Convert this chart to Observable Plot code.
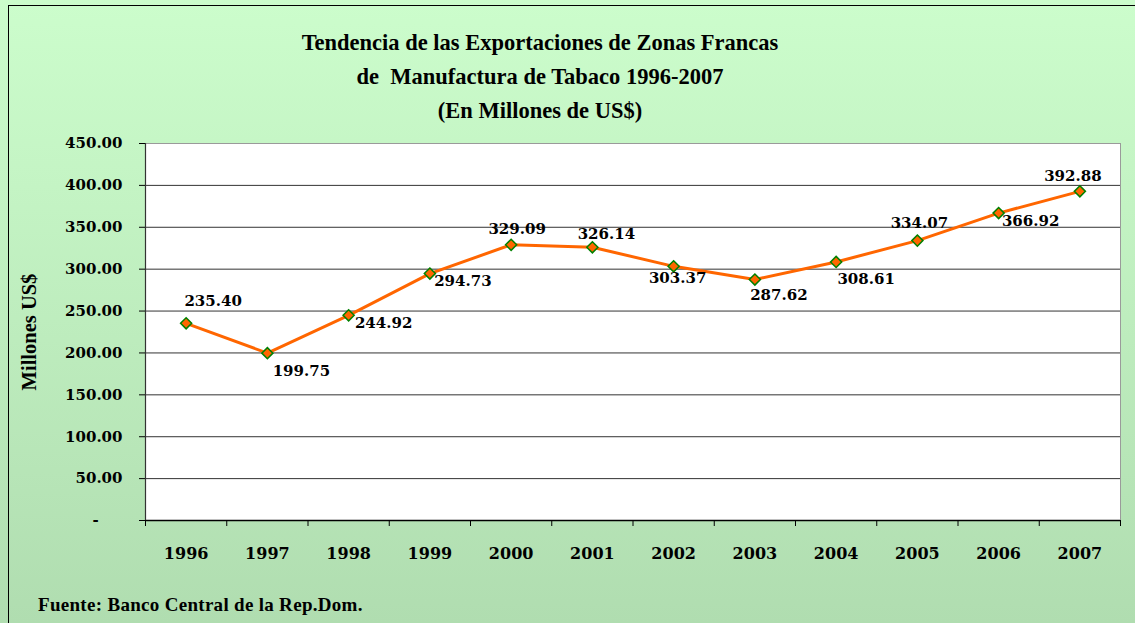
<!DOCTYPE html>
<html><head><meta charset="utf-8">
<script src="https://cdn.jsdelivr.net/npm/d3@7"></script>
<script src="https://cdn.jsdelivr.net/npm/@observablehq/plot@0.6"></script>
<style>
html,body{margin:0;padding:0;background:#fff;}
body{width:1135px;height:623px;overflow:hidden;}
#wrap{position:relative;width:1135px;height:623px;background:linear-gradient(#CCFDCC 0%, #C4F4C4 30%, #B0DDB0 100%);overflow:hidden;}
#border{position:absolute;left:8px;top:5px;width:1300px;height:800px;border:1.5px solid #000;box-sizing:border-box;}
#title{position:absolute;left:0;width:1080px;top:26px;text-align:center;font-family:"Liberation Serif",serif;font-weight:bold;font-size:22.5px;line-height:34px;color:#000;}
#ylab{position:absolute;left:29px;top:332px;transform:translate(-50%,-50%) rotate(-90deg);white-space:nowrap;font-family:"Liberation Serif",serif;font-weight:bold;font-size:20.5px;color:#000;}
#foot{position:absolute;left:38px;top:594px;font-family:"Liberation Serif",serif;font-weight:bold;font-size:19px;letter-spacing:0.3px;color:#000;white-space:nowrap;}
#chart{position:absolute;left:0;top:0;}
</style>
</head><body>
<div id="wrap">
  <div id="border"></div>
  <div id="chart"></div>
  <div id="title">Tendencia de las Exportaciones de Zonas Francas<br>de&nbsp; Manufactura de Tabaco 1996-2007<br>(En Millones de US$)</div>
  <div id="ylab">Millones US$</div>
  <div id="foot">Fuente: Banco Central de la Rep.Dom.</div>
</div>
<script>
// Data
const years = [1996, 1997, 1998, 1999, 2000, 2001, 2002, 2003, 2004, 2005, 2006, 2007];
const values = [235.40, 199.75, 244.92, 294.73, 329.09, 326.14, 303.37, 287.62, 308.61, 334.07, 366.92, 392.88];
const yTicks = [0, 50, 100, 150, 200, 250, 300, 350, 400, 450];

// Label placement (style, not data)
const labelDx = [27, 34, 35, 33, 6, 14, 4, 24, 30, 2, 32, -7];
const labelDy = [-22, 18, 8, 8, -16, -13, 12, 16, 17, -17, 8, -15];

const rows = years.map((yr, i) => ({year: yr, value: values[i]}));
const xMin = years[0] - 0.5, xMax = years[years.length - 1] + 0.5;
const bounds = years.map(y => y - 0.5).concat([xMax]);

const labelMarks = rows.map((r, i) => Plot.text([r], {
  x: "year", y: "value", text: d => d.value.toFixed(2),
  dx: labelDx[i], dy: labelDy[i], fill: "#000",
  fontFamily: "DejaVu Serif", fontWeight: "bold", fontSize: 15
}));

const chart = Plot.plot({
  width: 1135, height: 623,
  marginLeft: 145, marginRight: 15, marginTop: 143, marginBottom: 103,
  style: {background: "transparent", fontFamily: "DejaVu Serif", fontWeight: "bold", fontSize: "15px", color: "#000", overflow: "visible"},
  x: {type: "linear", domain: [xMin, xMax]},
  y: {domain: [0, 450]},
  marks: [
    Plot.frame({fill: "white", stroke: "#9a9a9a"}),
    Plot.ruleY(yTicks.filter(t => t > 0 && t < 450), {stroke: "#333", strokeWidth: 1}),
    Plot.ruleY([0], {stroke: "#000", strokeWidth: 1.5}),
    Plot.ruleX([xMin], {stroke: "#333", strokeWidth: 1.2}),
    Plot.axisY({ticks: yTicks, tickSize: 6, tickPadding: 17, tickFormat: d => d === 0 ? "-\u2007\u2007\u2009" : d.toFixed(2), label: null, fontSize: 15}),
    Plot.axisX({ticks: bounds, tickSize: 6, tickFormat: () => "", label: null}),
    Plot.axisX({ticks: years, tickSize: 0, tickPadding: 27, tickFormat: d => String(d), label: null, fontSize: 16}),
    Plot.line(rows, {x: "year", y: "value", stroke: "#FF6600", strokeWidth: 3}),
    Plot.dot(rows, {x: "year", y: "value", symbol: "diamond2", r: 5, fill: "#FF6600", stroke: "#008000", strokeWidth: 1.5}),
    ...labelMarks
  ]
});
document.getElementById("chart").appendChild(chart);
</script>
</body></html>
